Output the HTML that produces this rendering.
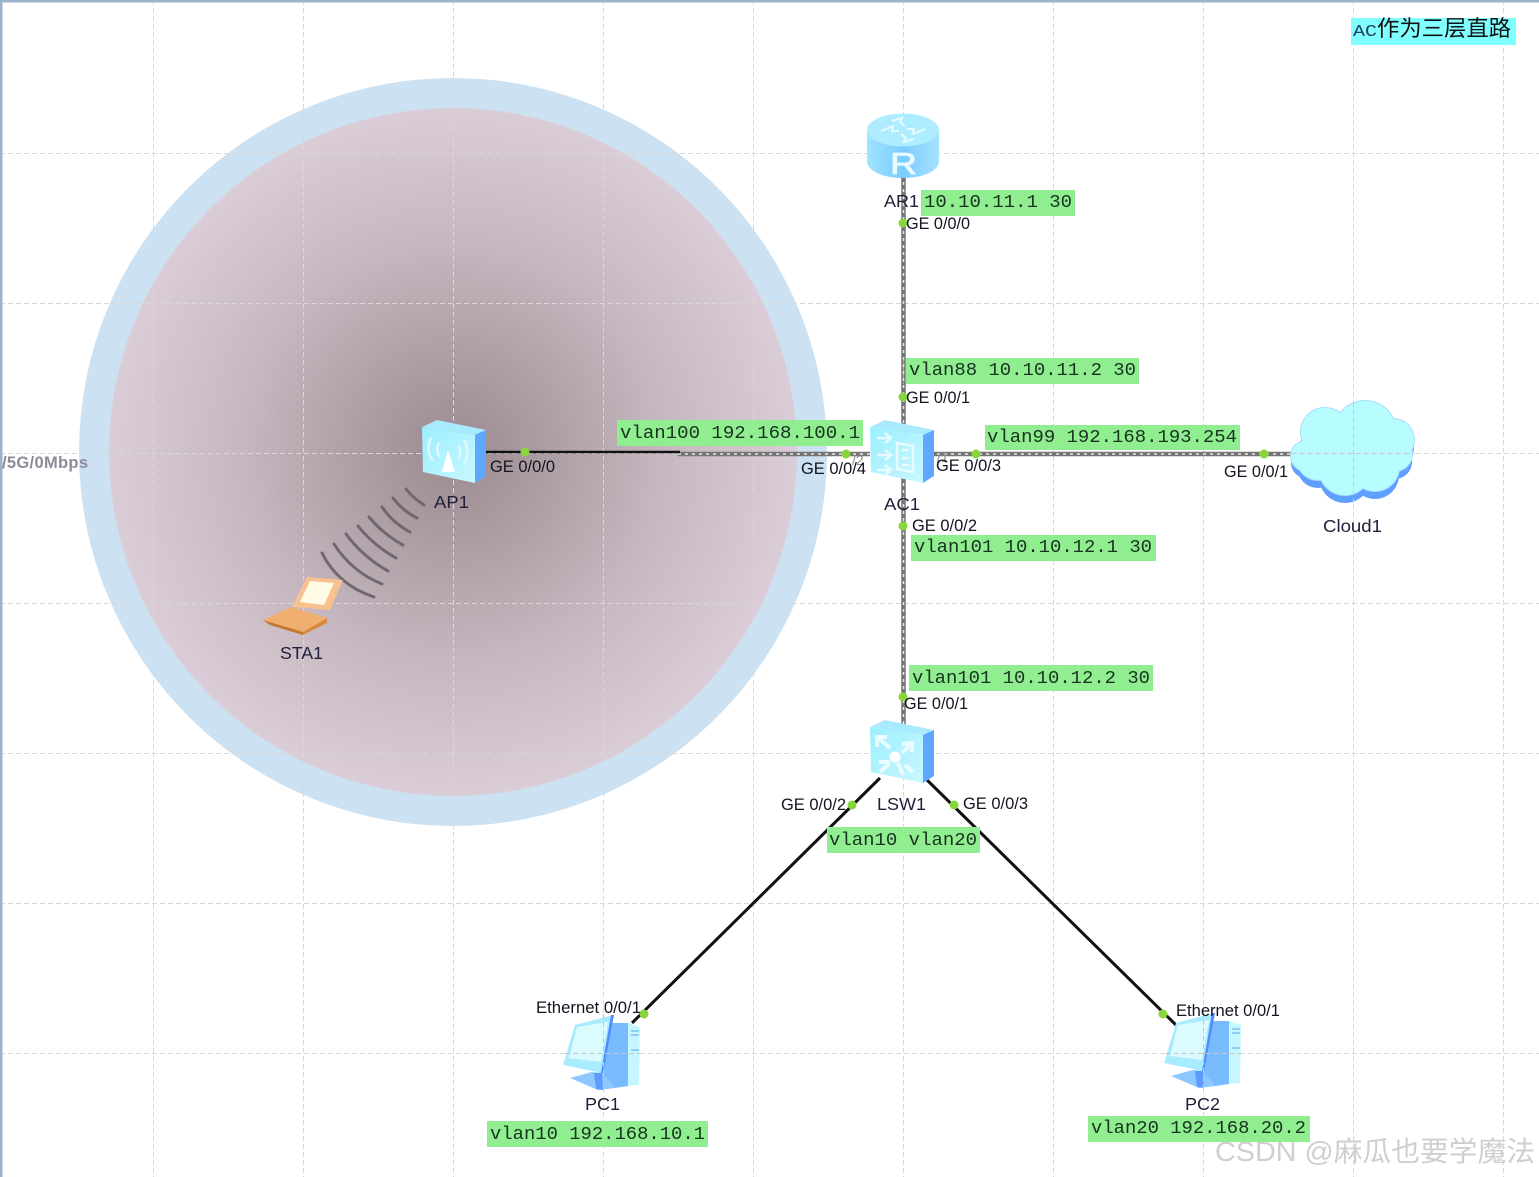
<!DOCTYPE html>
<html><head><meta charset="utf-8"><style>
html,body{margin:0;padding:0;background:#fff;width:1539px;height:1177px;overflow:hidden}
svg{display:block;filter:blur(.35px)}
.g{font:16.500px "Liberation Sans",sans-serif;fill:#12141f}
.m{font:18px "Liberation Mono","DejaVu Sans Mono",monospace;fill:#17331f}
.n{font:17.500px "Liberation Sans",sans-serif;fill:#20203a}
</style></head><body>
<svg width="1539" height="1177" viewBox="0 0 1539 1177" xmlns="http://www.w3.org/2000/svg">
<defs>
<radialGradient id="rg" cx="453" cy="452" r="344" gradientUnits="userSpaceOnUse">
<stop offset="0" stop-color="#9c8b90"/><stop offset=".25" stop-color="#ab9ca2"/><stop offset=".6" stop-color="#c5b6bf"/><stop offset="1" stop-color="#dbcdd7"/>
</radialGradient>
<linearGradient id="ar" x1="0" x2="1" y1="0" y2="0"><stop offset="0" stop-color="#9fe4ff"/><stop offset=".5" stop-color="#7cccff"/><stop offset="1" stop-color="#a6e2ff"/></linearGradient>
<linearGradient id="fr" x1="0" x2="1" y1="0" y2="1"><stop offset="0" stop-color="#9ceeff"/><stop offset="1" stop-color="#c8f8ff"/></linearGradient>
<g id="box">
<polygon points="-31,-25 -16,-32 33,-22 22,-17" fill="#aaeaff"/>
<polygon points="-31,-25 22,-17 22,31 -30,20" fill="url(#fr)"/>
<polygon points="22,-17 33,-22 33,24 22,31" fill="#5fa8ff"/>
</g>
<g id="pc">
<polygon points="-2,-30 26,-30 26,33 13,35 -2,30" fill="#78bcff"/>
<polygon points="26,-30 38,-26 37,32 26,33" fill="#c6f6ff"/>
<polygon points="-32,25 -10,19 0,20 13,35 -4,37" fill="#8cc8ff"/>
<polygon points="-8,20 0,20 1,37 -6,36" fill="#5f9bff"/>
<polygon points="-27,-28 11,-38 0,20 -39,12" fill="#a9ecff"/>
<polygon points="-25,-26 6,-31 -1,9 -33,5" fill="#dcfbff"/>
<polygon points="9,-38 12,-38 1,20 -1,20" fill="#4f8dff"/>
<path d="M29 -22H37M29 -18H37M29 -3H37" stroke="#7fc0f0" stroke-width="1.500" fill="none"/>
</g>
</defs>
<rect width="1539" height="1177" fill="#fff"/>
<circle cx="453" cy="452" r="374" fill="#cce1f1"/>
<circle cx="453" cy="452" r="344" fill="url(#rg)"/>
<g stroke="#d8d8d8" stroke-width="1" stroke-dasharray="5 3" fill="none">
<path d="M153.500 0V1177M303.500 0V1177M453.500 0V1177M603.500 0V1177M753.500 0V1177M903.500 0V1177M1053.500 0V1177M1203.500 0V1177M1353.500 0V1177M1503.500 0V1177"/>
<path d="M0 153.500H1539M0 303.500H1539M0 453.500H1539M0 603.500H1539M0 753.500H1539M0 903.500H1539M0 1053.500H1539"/>
</g>
<rect x="0" y="0" width="1539" height="2.500" fill="#9db3cd"/>
<rect x="0" y="0" width="2.500" height="1177" fill="#9db3cd"/>
<text x="2" y="468" textLength="86" style="font:bold 16.500px 'Liberation Sans',sans-serif;fill:#8c8c98">/5G/0Mbps</text>

<g fill="none">
<path d="M903.500 175V725" stroke="#757575" stroke-width="4.500"/>
<path d="M903.500 175V725" stroke="#e8e8e8" stroke-width="1.500" stroke-dasharray="3 4"/>
<path d="M678 454H870M930 454H1296" stroke="#757575" stroke-width="4.500"/>
<path d="M678 454H870M930 454H1296" stroke="#e8e8e8" stroke-width="1.500" stroke-dasharray="3 4"/>
<path d="M486 452H680" stroke="#111" stroke-width="2.500"/>
<path d="M880 778L632 1023M925 778L1176 1025" stroke="#111" stroke-width="3"/>
</g>

<g stroke="#6f6870" stroke-width="3" fill="none" stroke-linecap="round">
<path d="M322 553Q338 585 374 597"/><path d="M334 544Q352 572 382 584"/><path d="M346 534Q363 557 388 571"/><path d="M358 526Q373 545 396 558"/><path d="M369 517Q383 534 403 545"/><path d="M382 507Q393 523 410 532"/><path d="M393 498Q403 511 417 518"/><path d="M406 489Q413 498 424 505"/>
</g>

<!-- AR1 -->
<g>
<path d="M867 130V161C867 171 883 178 903 178S939 171 939 161V130Z" fill="url(#ar)"/>
<ellipse cx="903" cy="130" rx="36" ry="16.500" fill="#aeecff"/>
<g stroke="#e6fbff" stroke-width="2" fill="none">
<path d="M881 131L893 126L892 131L899 131M925 129L913 134L914 129L907 129M892 121L902 118L900 122L905 126M914 139L904 142L906 138L901 134"/>
</g>
<text x="890" y="174" textLength="27" lengthAdjust="spacingAndGlyphs" stroke="#e8fbff" stroke-width=".8" style="font:31px 'Liberation Sans',sans-serif;fill:#e8fbff">R</text>
</g>

<!-- AP1 -->
<g transform="translate(453,452)">
<use href="#box"/>
<polygon points="-11,20 -5,-2 2,20" fill="#fff"/>
<g stroke="#def8ff" stroke-width="2.500" fill="none"><path d="M-22 -14Q-28 -2-20 9M-14 -9Q-18 -2-13 5M5 -7Q9 0 6 7M11 -12Q18 0 11 12"/></g>
</g>

<!-- AC1 -->
<g transform="translate(901,452)">
<use href="#box"/>
<g stroke="#e8fcff" stroke-width="2.500" fill="none"><path d="M-24 -14H-11M-16 -19L-10 -14L-16 -9M-24 3H-11M-16 -2L-10 3L-16 8M-24 18H-11M-16 13L-10 18L-16 23"/><path d="M-4 -9L12 -6V20L-4 17ZM1 -2H8M1 6H8M1 13H8"/></g>
</g>

<!-- LSW1 -->
<g transform="translate(901,752)">
<use href="#box"/>
<g stroke="#eafcff" stroke-width="4" fill="none"><path d="M-24 -15L-11 -4M-24 -5V-15H-14M11 -9L1 1M1 -8L11 -9L11 0M-21 20L-11 11M-22 10L-11 10M-3 11L2 23M12 20L4 13"/></g>
<circle cx="-6" cy="5" r="5.500" fill="#fff"/>
</g>

<!-- Cloud -->
<g fill="#5f9fff">
<circle cx="1325" cy="439" r="24"/><circle cx="1365" cy="439" r="31"/><circle cx="1393" cy="447" r="21"/><circle cx="1306" cy="463" r="15"/><circle cx="1318" cy="467" r="21"/><circle cx="1345" cy="477" r="26"/><circle cx="1375" cy="475" r="24"/><circle cx="1395" cy="462" r="17"/>
</g>
<g fill="#a6deff">
<circle cx="1325" cy="432" r="25"/><circle cx="1365" cy="432" r="32"/><circle cx="1393" cy="440" r="22"/><circle cx="1306" cy="456" r="16"/><circle cx="1318" cy="459" r="22"/><circle cx="1345" cy="469" r="27"/><circle cx="1375" cy="467" r="25"/><circle cx="1395" cy="454" r="18"/>
</g>
<g fill="#b7fcff">
<circle cx="1325" cy="432" r="24"/><circle cx="1365" cy="432" r="31"/><circle cx="1393" cy="440" r="21"/><circle cx="1306" cy="456" r="15"/><circle cx="1318" cy="459" r="21"/><circle cx="1345" cy="469" r="26"/><circle cx="1375" cy="467" r="24"/><circle cx="1395" cy="454" r="17"/>
</g>
<path d="M1353.500 402V503M1292 453.500H1415" stroke="#c8c8c8" stroke-dasharray="5 3" fill="none"/>

<!-- STA1 -->
<g>
<polygon points="307,577 343,580 330,610 292,607" fill="#f7c28f"/>
<polygon points="310,581 334,583 324,605 300,602" fill="#fffbe6"/>
<polygon points="263,620 291,607 327,618 303,632" fill="#f0ae70"/>
<polygon points="263,620 303,632 303,635 270,625" fill="#c6752d"/>
<polygon points="303,632 327,618 327,623 303,635" fill="#d98a40"/>
</g>

<!-- PCs -->
<g transform="translate(602,1053)"><use href="#pc"/></g>
<g transform="translate(1203,1051)"><use href="#pc"/></g>
<path d="M603.500 1014V1092M1203.500 1012V1090M565 1053.500H640M1166 1053.500H1241" stroke="#c8c8c8" stroke-dasharray="5 3" fill="none"/>

<!-- ghost labels behind AC1 -->
<text x="852" y="465" style="font:14px 'Liberation Sans',sans-serif;fill:#8d8d8d">/2</text>
<text x="937" y="462" style="font:14px 'Liberation Sans',sans-serif;fill:#8d8d8d">/1</text>

<!-- label bars -->
<g fill="#90ee90">
<rect x="921" y="190" width="154" height="26"/>
<rect x="906" y="358" width="233" height="26"/>
<rect x="617" y="420" width="246" height="26"/>
<rect x="985" y="425" width="255" height="25"/>
<rect x="911" y="535" width="245" height="26"/>
<rect x="909" y="665" width="244" height="26"/>
<rect x="827" y="827" width="153" height="26"/>
<rect x="487" y="1121" width="221" height="26"/>
<rect x="1088" y="1116" width="222" height="26"/>
</g>
<rect x="1351" y="18" width="165" height="27" fill="#80ffff"/>
<g stroke="#d0d0d0" stroke-width="1" stroke-dasharray="5 3" fill="none" opacity=".6">
<path d="M1053.500 190V216M903.500 358V384M753.500 420V446M1053.500 425V450M1053.500 535V561M1053.500 665V691M903.500 827V853M603.500 1121V1147M1203.500 1116V1142M1353.500 18V45M1503.500 18V45"/>
</g>

<g class="m">
<text class="m" x="924" y="207" textLength="148" lengthAdjust="spacingAndGlyphs">10.10.11.1 30</text>
<text class="m" x="909" y="375" textLength="227" lengthAdjust="spacingAndGlyphs">vlan88 10.10.11.2 30</text>
<text class="m" x="620" y="438" textLength="240" lengthAdjust="spacingAndGlyphs">vlan100 192.168.100.1</text>
<text class="m" x="987" y="442" textLength="250" lengthAdjust="spacingAndGlyphs">vlan99 192.168.193.254</text>
<text class="m" x="914" y="552" textLength="238" lengthAdjust="spacingAndGlyphs">vlan101 10.10.12.1 30</text>
<text class="m" x="912" y="683" textLength="238" lengthAdjust="spacingAndGlyphs">vlan101 10.10.12.2 30</text>
<text class="m" x="829" y="845" textLength="148" lengthAdjust="spacingAndGlyphs">vlan10 vlan20</text>
<text class="m" x="490" y="1139" textLength="215" lengthAdjust="spacingAndGlyphs">vlan10 192.168.10.1</text>
<text class="m" x="1091" y="1133" textLength="215" lengthAdjust="spacingAndGlyphs">vlan20 192.168.20.2</text>
</g>
<text x="1353" y="36" style="font:17px 'Liberation Mono',monospace;fill:#24406a" textLength="24" lengthAdjust="spacingAndGlyphs">AC</text>
<text x="1377" y="36" style="font:22px 'WenQuanYi Zen Hei','Noto Sans CJK SC',sans-serif;fill:#111" textLength="134" lengthAdjust="spacingAndGlyphs">作为三层直路</text>

<g fill="#87d63c">
<circle cx="903" cy="223" r="4.500"/><circle cx="903" cy="397" r="4.500"/><circle cx="525" cy="452" r="4.500"/><circle cx="846" cy="454" r="4.500"/><circle cx="976" cy="454" r="4.500"/><circle cx="1264" cy="454" r="4.500"/><circle cx="903" cy="526" r="4.500"/><circle cx="903" cy="697" r="4.500"/><circle cx="852" cy="805" r="4.500"/><circle cx="954" cy="805" r="4.500"/><circle cx="644" cy="1014" r="4.500"/><circle cx="1163" cy="1014" r="4.500"/>
</g>

<g class="g">
<text class="g" x="906" y="229" textLength="64" lengthAdjust="spacingAndGlyphs">GE 0/0/0</text>
<text class="g" x="906" y="403" textLength="64" lengthAdjust="spacingAndGlyphs">GE 0/0/1</text>
<text class="g" x="490" y="472" textLength="65" lengthAdjust="spacingAndGlyphs">GE 0/0/0</text>
<text class="g" x="801" y="474" textLength="65" lengthAdjust="spacingAndGlyphs">GE 0/0/4</text>
<text class="g" x="936" y="471" textLength="65" lengthAdjust="spacingAndGlyphs">GE 0/0/3</text>
<text class="g" x="1224" y="477" textLength="64" lengthAdjust="spacingAndGlyphs">GE 0/0/1</text>
<text class="g" x="912" y="531" textLength="65" lengthAdjust="spacingAndGlyphs">GE 0/0/2</text>
<text class="g" x="904" y="709" textLength="64" lengthAdjust="spacingAndGlyphs">GE 0/0/1</text>
<text class="g" x="781" y="810" textLength="65" lengthAdjust="spacingAndGlyphs">GE 0/0/2</text>
<text class="g" x="963" y="809" textLength="65" lengthAdjust="spacingAndGlyphs">GE 0/0/3</text>
<text class="g" x="536" y="1013" textLength="105" lengthAdjust="spacingAndGlyphs">Ethernet 0/0/1</text>
<text class="g" x="1176" y="1016" textLength="104" lengthAdjust="spacingAndGlyphs">Ethernet 0/0/1</text>
</g>
<g class="n">
<text class="n" x="884" y="207" textLength="35" lengthAdjust="spacingAndGlyphs">AR1</text>
<text class="n" x="434" y="508" textLength="35" lengthAdjust="spacingAndGlyphs">AP1</text>
<text class="n" x="884" y="510" textLength="36" lengthAdjust="spacingAndGlyphs">AC1</text>
<text class="n" x="280" y="659" textLength="43" lengthAdjust="spacingAndGlyphs">STA1</text>
<text class="n" x="1323" y="532" textLength="59" lengthAdjust="spacingAndGlyphs">Cloud1</text>
<text class="n" x="877" y="810" textLength="49" lengthAdjust="spacingAndGlyphs">LSW1</text>
<text class="n" x="585" y="1110" textLength="35" lengthAdjust="spacingAndGlyphs">PC1</text>
<text class="n" x="1185" y="1110" textLength="35" lengthAdjust="spacingAndGlyphs">PC2</text>
</g>
<text x="1215" y="1161" style="font:28px 'Liberation Sans','Noto Sans CJK SC',sans-serif;fill:#cfcfcf" textLength="320" lengthAdjust="spacingAndGlyphs">CSDN @麻瓜也要学魔法</text>
</svg>
</body></html>
